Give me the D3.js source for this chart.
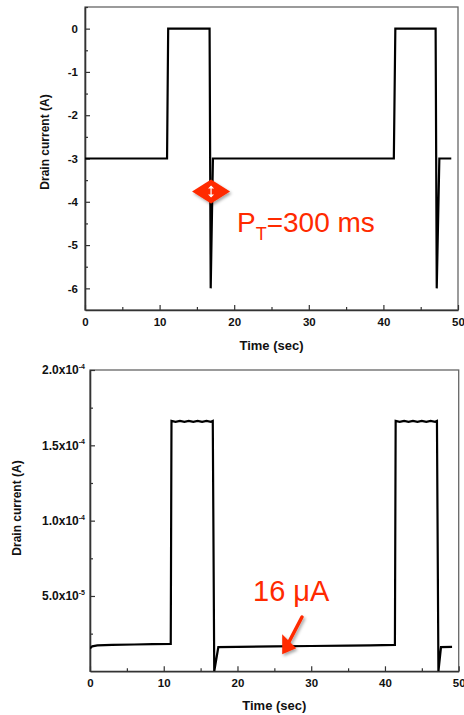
<!DOCTYPE html>
<html>
<head>
<meta charset="utf-8">
<script src="https://cdn.jsdelivr.net/npm/d3@7"></script>
<style>
  html, body { margin: 0; padding: 0; background: #fff; }
  svg { display: block; font-family: Arial, "Liberation Sans", sans-serif; }
</style>
</head>
<body>
<svg id="chart" width="464" height="715"></svg>
<script>
// ---- Data -------------------------------------------------------------
// Upper panel: gate pulse response, drain current in A vs time in s
const topTime    = [0, 11.0, 11.15, 16.7, 16.85, 17.15, 41.4, 41.6, 47.0, 47.15, 47.5, 49.1];
const topCurrent = [-3, -3, 0, 0, -6, -3, -3, 0, 0, -6, -3, -3];

// Lower panel: drain current in A vs time in s
const botTime = [0, 0.3, 1, 3, 6, 8.5, 10.95,
  11.05, 11.6, 12.2, 12.8, 13.4, 14.0, 14.6, 15.2, 15.8, 16.4, 16.65,
  16.85, 17.4, 20, 25, 30, 35, 38, 41.35,
  41.45, 42.0, 42.6, 43.2, 43.8, 44.4, 45.0, 45.6, 46.2, 46.8, 47.05,
  47.25, 47.6, 49.1];
const botCurrent = [1.52e-5, 1.66e-5, 1.72e-5, 1.75e-5, 1.78e-5, 1.8e-5, 1.82e-5,
  1.662e-4, 1.656e-4, 1.662e-4, 1.656e-4, 1.662e-4, 1.656e-4, 1.662e-4, 1.656e-4, 1.662e-4, 1.656e-4, 1.662e-4,
  0, 1.6e-5, 1.62e-5, 1.66e-5, 1.68e-5, 1.7e-5, 1.72e-5, 1.75e-5,
  1.662e-4, 1.656e-4, 1.662e-4, 1.656e-4, 1.662e-4, 1.656e-4, 1.662e-4, 1.656e-4, 1.662e-4, 1.656e-4, 1.662e-4,
  0, 1.6e-5, 1.62e-5];

// Tick values and labels
const xTicks = [0, 10, 20, 30, 40, 50];
const xMinor = [5, 15, 25, 35, 45];
const topYTicks = [0, -1, -2, -3, -4, -5, -6];
const topYMinor = [0.5, -0.5, -1.5, -2.5, -3.5, -4.5, -5.5];
const botYTicks = [5e-5, 1e-4, 1.5e-4, 2e-4];
const botYTickMant = ["5.0", "1.0", "1.5", "2.0"];
const botYTickExp  = ["-5", "-4", "-4", "-4"];
const botYMinor = [2.5e-5, 7.5e-5, 1.25e-4, 1.75e-4];

// Annotations
const pulseLabel = { main: "P", sub: "T", rest: "=300 ms", t: 16.9, v: -3.76 };
const levelLabel = { text: "16 μA", t: 26.2, v: 1.66e-5 };

// ---- Drawing ------------------------------------------------------------
const svg = d3.select("#chart");
const RED = "#ff2a00";

const defs = svg.append("defs");
const shadow = defs.append("filter").attr("id", "shadow")
  .attr("x", "-50%").attr("y", "-50%").attr("width", "200%").attr("height", "200%");
shadow.append("feDropShadow").attr("dx", 1.5).attr("dy", 2).attr("stdDeviation", 1.6)
  .attr("flood-color", "#000").attr("flood-opacity", 0.35);

function panel(cfg) {
  const g = svg.append("g");
  const x = d3.scaleLinear().domain([0, 50]).range([cfg.left, cfg.right]);
  const y = d3.scaleLinear().domain(cfg.yDomain).range([cfg.bottom, cfg.top]);

  const clipId = "clip" + cfg.id;
  defs.append("clipPath").attr("id", clipId).append("rect")
    .attr("x", cfg.left).attr("y", cfg.top)
    .attr("width", cfg.right - cfg.left).attr("height", cfg.bottom - cfg.top);

  // frame
  g.append("rect")
    .attr("x", cfg.left).attr("y", cfg.top)
    .attr("width", cfg.right - cfg.left).attr("height", cfg.bottom - cfg.top)
    .attr("fill", "none").attr("stroke", "#666").attr("stroke-width", 1.3);

  // x axis (ticks pointing inward)
  const xAxis = d3.axisBottom(x).tickValues(xTicks).tickSizeInner(-5).tickSizeOuter(0).tickPadding(8);
  const xa = g.append("g").attr("transform", `translate(0,${cfg.bottom})`).call(xAxis);
  g.append("g").attr("transform", `translate(0,${cfg.bottom})`)
    .call(d3.axisBottom(x).tickValues(xMinor).tickSizeInner(-3).tickSizeOuter(0).tickFormat(""))
    .call(s => s.select(".domain").remove());

  // y axis
  const yAxis = d3.axisLeft(y).tickValues(cfg.yTicks).tickSizeInner(-5).tickSizeOuter(0).tickPadding(7);
  if (cfg.yFormat) yAxis.tickFormat(() => "");
  else yAxis.tickFormat(d => d3.format("d")(d).replace("−", "-"));
  const ya = g.append("g").attr("transform", `translate(${cfg.left},0)`).call(yAxis);
  g.append("g").attr("transform", `translate(${cfg.left},0)`)
    .call(d3.axisLeft(y).tickValues(cfg.yMinor).tickSizeInner(-3).tickSizeOuter(0).tickFormat(""))
    .call(s => s.select(".domain").remove());

  [xa, ya].forEach(a => {
    a.select(".domain").attr("stroke", "#333").attr("stroke-width", 1.6);
    a.selectAll(".tick text").attr("fill", "#111").attr("font-size", 11.5)
      .attr("font-weight", "bold").attr("font-family", "Arial, 'Liberation Sans', sans-serif");
  });
  g.selectAll(".tick line").attr("stroke", "#333").attr("stroke-width", 1.2);

  if (cfg.yFormat) {
    // scientific labels: mantissa x10 with superscript exponent
    ya.selectAll(".tick").each(function (d, i) {
      const t = d3.select(this).select("text")
        .attr("x", -5).attr("font-size", 12).attr("dy", "0.32em");
      t.text(null);
      t.append("tspan").text(botYTickMant[i] + "x10");
      t.append("tspan").text(botYTickExp[i]).attr("font-size", 7).attr("dy", "-0.75em");
    });
  }

  // axis titles
  g.append("text")
    .attr("transform", `translate(${cfg.yTitleX},${cfg.yTitleY}) rotate(-90)`)
    .attr("text-anchor", "middle").attr("font-size", 12).attr("font-weight", "bold")
    .attr("fill", "#111").text("Drain current (A)");
  g.append("text")
    .attr("x", (cfg.left + cfg.right) / 2).attr("y", cfg.xTitleY)
    .attr("text-anchor", "middle").attr("font-size", 13).attr("font-weight", "bold")
    .attr("fill", "#111").text("Time (sec)");

  // data trace
  const pts = cfg.t.map((t, i) => [t, cfg.v[i]]);
  g.append("path").datum(pts)
    .attr("clip-path", `url(#${clipId})`)
    .attr("fill", "none").attr("stroke", "#000").attr("stroke-width", 2.2)
    .attr("stroke-linejoin", "miter")
    .attr("d", d3.line().x(d => x(d[0])).y(d => y(d[1])));

  return { g, x, y };
}

const p1 = panel({
  id: 1, left: 85, right: 458, top: 7, bottom: 310,
  yDomain: [-6.5, 0.5], yTicks: topYTicks, yMinor: topYMinor,
  t: topTime, v: topCurrent, yTitleX: 49, yTitleY: 142, xTitleY: 350
});

const p2 = panel({
  id: 2, left: 90, right: 458.7, top: 370, bottom: 671.3,
  yDomain: [0, 2e-4], yTicks: botYTicks, yMinor: botYMinor, yFormat: true,
  t: botTime, v: botCurrent, yTitleX: 21, yTitleY: 508, xTitleY: 710
});

// ---- Annotations ----------------------------------------------------------
// pulse-width marker: red diamond with a small white double arrow
{
  const cx = p1.x(pulseLabel.t), cy = p1.y(pulseLabel.v);
  const a = svg.append("g").attr("transform", `translate(${cx},${cy})`);
  a.append("path").attr("d", "M-19,0 L0,-12 L19,0 L0,12 Z")
    .attr("fill", RED).attr("filter", "url(#shadow)");
  a.append("line").attr("x1", 0).attr("x2", 0).attr("y1", -5).attr("y2", 5)
    .attr("stroke", "#fff").attr("stroke-width", 1.2);
  a.append("path").attr("d", "M-3,-3 L0,-6 L3,-3 Z M-3,3 L0,6 L3,3 Z").attr("fill", "#fff");

  const t = svg.append("text").attr("x", 237).attr("y", 232)
    .attr("fill", RED).attr("font-size", 28).attr("font-family", "Arial, 'Liberation Sans', sans-serif");
  t.append("tspan").text(pulseLabel.main);
  t.append("tspan").text(pulseLabel.sub).attr("font-size", 18).attr("dy", 8);
  t.append("tspan").text(pulseLabel.rest).attr("dy", -8);
}

// baseline level label with arrow
{
  const tx = p2.x(levelLabel.t), ty = p2.y(levelLabel.v);
  svg.append("text").attr("x", 253).attr("y", 601)
    .attr("fill", RED).attr("font-size", 29)
    .attr("font-family", "Arial, 'Liberation Sans', sans-serif")
    .text(levelLabel.text);
  const ar = svg.append("g").attr("filter", "url(#shadow)");
  ar.append("line").attr("x1", 302).attr("y1", 617).attr("x2", tx + 3).attr("y2", ty + 1)
    .attr("stroke", RED).attr("stroke-width", 3.5).attr("stroke-linecap", "round");
  ar.append("path")
    .attr("d", `M${tx - 1},${ty + 8} L${tx - 1},${ty - 12} L${tx + 13},${ty + 2} Z`)
    .attr("fill", RED);
}
</script>
</body>
</html>
